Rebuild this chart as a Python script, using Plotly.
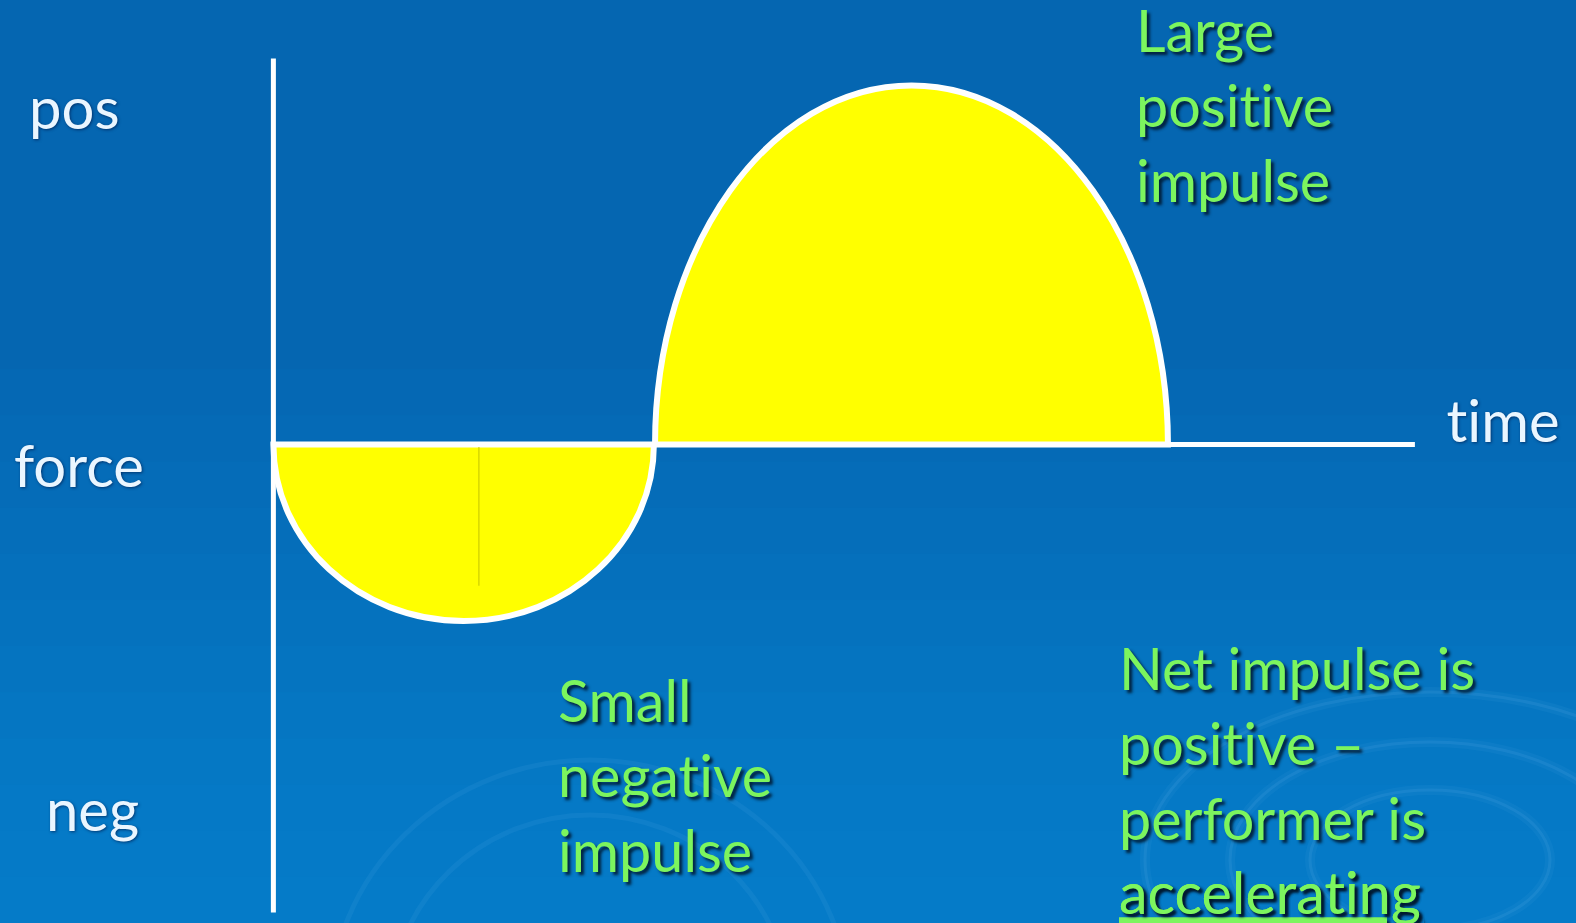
import plotly.graph_objects as go

# ---- data (time / force units) ----
impulse_names = ["negative", "positive"]
impulse_start = [0.0, 1.003]
impulse_end = [1.0, 2.351]
impulse_peak = [-0.4915, 1.0]

time_axis_end = 3.0
force_axis_top = 1.075
force_axis_bottom = -1.303

force_tick_labels = ["pos", "force", "neg"]
force_tick_y = [0.942, -0.056, -1.015]
force_tick_x = [-0.648, -0.6875, -0.603]
time_label = "time"
time_label_pos = [3.076, 0.0705]

notes = [
    "Large<br>positive<br>impulse",
    "Small<br>negative<br>impulse",
    "Net impulse is<br>positive –<br>performer is<br><u>accelerating</u>",
]
notes_x = [2.262, 0.7435, 2.216]
notes_y = [0.9468, -0.9187, -0.934]

BG = "#0566B1"
YELLOW = "#FFFF00"
WHITE = "#FFFFFF"
GREEN = "#7CF55E"
LABEL = "#EAF6FF"
FONT = "Lato"

fig = go.Figure()
fig.add_trace(go.Scatter(x=[0], y=[0], mode="markers", marker=dict(opacity=0),
                         hoverinfo="skip", showlegend=False))

shapes = []

# soft vertical gradient: lighter toward the bottom
for i in range(1, 13):
    shapes.append(dict(type="rect", xref="paper", yref="paper", layer="below",
                       x0=0, x1=1, y0=0, y1=0.05 * i,
                       line=dict(width=0), fillcolor="rgba(25,150,245,0.05)"))

# faint background ripples (paper coords)
W, H = 1576.0, 923.0
for rx, ry in [(120, 70), (200, 118), (285, 168)]:
    cx, cy = 1430 / W, (H - 860) / H
    for wdt, op in [(10, 0.05), (3, 0.09)]:
        shapes.append(dict(type="circle", xref="paper", yref="paper", layer="below",
                           x0=cx - rx / W, x1=cx + rx / W, y0=cy - ry / H, y1=cy + ry / H,
                           line=dict(color=f"rgba(150,210,255,{op})", width=wdt),
                           fillcolor="rgba(0,0,0,0)"))
for rx, ry in [(200, 195), (260, 250)]:
    cx, cy = 590 / W, (H - 1010) / H
    shapes.append(dict(type="circle", xref="paper", yref="paper", layer="below",
                       x0=cx - rx / W, x1=cx + rx / W, y0=cy - ry / H, y1=cy + ry / H,
                       line=dict(color="rgba(150,210,255,0.07)", width=5),
                       fillcolor="rgba(0,0,0,0)"))

# half-ellipse impulse areas built from start / end / peak (cubic Bezier approx)
k = 0.5523
for x0, x1, h in zip(impulse_start, impulse_end, impulse_peak):
    cx = (x0 + x1) / 2
    rx = (x1 - x0) / 2
    path = (f"M {x0},0 C {x0},{k*h} {cx - k*rx},{h} {cx},{h} "
            f"C {cx + k*rx},{h} {x1},{k*h} {x1},0 Z")
    shapes.append(dict(type="path", xref="x", yref="y", path=path,
                       fillcolor=YELLOW, line=dict(color=WHITE, width=6)))

# faint centre line inside the negative lobe
neg_c = (impulse_start[0] + impulse_end[0]) / 2 + 0.04
shapes.append(dict(type="line", xref="x", yref="y", x0=neg_c, x1=neg_c,
                   y0=-0.005, y1=impulse_peak[0] * 0.8,
                   line=dict(color="rgba(190,190,0,0.6)", width=1.5)))

# axes
shapes.append(dict(type="line", xref="x", yref="y", x0=0, x1=0,
                   y0=force_axis_bottom, y1=force_axis_top,
                   line=dict(color=WHITE, width=5)))
shapes.append(dict(type="line", xref="x", yref="y", x0=0, x1=time_axis_end,
                   y0=0, y1=0, line=dict(color=WHITE, width=5)))

label_font = dict(family=FONT, size=58, color=LABEL,
                  shadow="1px 1px 3px rgba(0,30,80,0.7)")
annotations = []
for t, x, y in zip(force_tick_labels, force_tick_x, force_tick_y):
    annotations.append(dict(text=t, x=x, y=y, xref="x", yref="y", xanchor="left",
                            yanchor="middle", showarrow=False, font=label_font))
annotations.append(dict(text=time_label, x=time_label_pos[0], y=time_label_pos[1],
                        xref="x", yref="y", xanchor="left", yanchor="middle",
                        showarrow=False, font=label_font))
for t, x, y in zip(notes, notes_x, notes_y):
    annotations.append(dict(text=t, x=x, y=y, xref="x", yref="y", xanchor="left",
                            yanchor="middle", align="left", showarrow=False,
                            font=dict(family=FONT, size=57.5, color=GREEN,
                                      shadow="3px 3px 3px rgba(0,20,40,0.85)")))

fig.update_layout(
    width=1576, height=923, autosize=False,
    margin=dict(l=0, r=0, t=0, b=0),
    paper_bgcolor=BG, plot_bgcolor=BG,
    xaxis=dict(range=[-0.7185, 3.4234], visible=False, fixedrange=True),
    yaxis=dict(range=[-1.3325, 1.2378], visible=False, fixedrange=True),
    shapes=shapes, annotations=annotations, showlegend=False,
)

post = (
    "document.body.style.margin='0';"
    "document.body.style.overflow='hidden';"
    "var st=document.createElement('style');"
    "st.textContent='text,tspan{font-variant-ligatures:none !important;"
    "font-feature-settings:\"liga\" 0,\"clig\" 0,\"calt\" 0 !important;}';"
    "document.head.appendChild(st);"
    "document.querySelectorAll('text,tspan').forEach(function(t){"
    "t.style.fontVariantLigatures='none';"
    "t.style.fontFeatureSettings='\"liga\" 0, \"clig\" 0, \"calt\" 0';});"
)
fig.write_html("out.html", config={"displayModeBar": False}, post_script=post)
